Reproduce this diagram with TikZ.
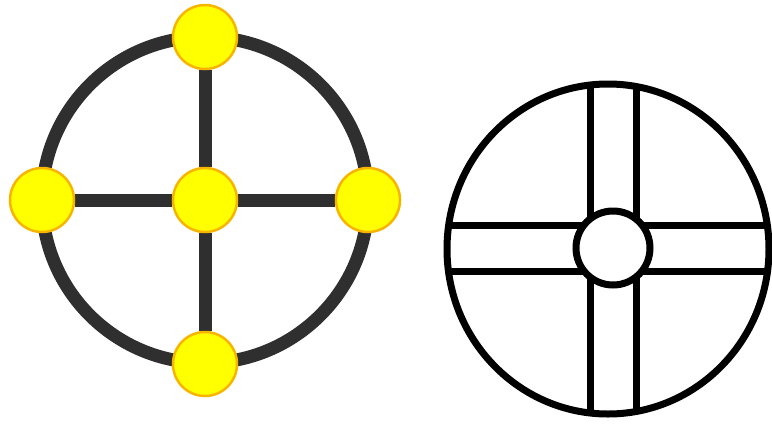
\documentclass[tikz,border=0pt]{standalone}
\usetikzlibrary{backgrounds}
\definecolor{edgegray}{HTML}{2F2F2F}
\definecolor{nodeyellow}{HTML}{FFFF00}
\definecolor{nodeborder}{HTML}{F7B500}
\tikzset{
  graphedge/.style={draw=edgegray, line width=13pt},
  vertex/.style={circle, fill=nodeyellow, draw=nodeborder, line width=2.5pt, minimum size=64pt, inner sep=0pt},
  symline/.style={draw=black, line width=7pt},
}
\begin{document}
\begin{tikzpicture}[x=1pt,y=-1pt]
\useasboundingbox (0,0) rectangle (772,424);
% left graph
\node[vertex] (c) at (205,200) {};
\node[vertex] (t) at (205,37) {};
\node[vertex] (b) at (205,364) {};
\node[vertex] (l) at (42,200) {};
\node[vertex] (r) at (368,200) {};
\begin{scope}[on background layer]
  \draw[graphedge] (c.center) circle[radius=163];
  \draw[graphedge] (c) -- (t);
  \draw[graphedge] (c) -- (b);
  \draw[graphedge] (c) -- (l);
  \draw[graphedge] (c) -- (r);
\end{scope}
% right symbol
\begin{scope}
  \clip (608,249) ellipse[x radius=161, y radius=165];
  \draw[symline] (590,60) -- (590,430);
  \draw[symline] (636,60) -- (636,430);
  \draw[symline] (430,225) -- (790,225);
  \draw[symline] (430,271) -- (790,271);
\end{scope}
\draw[symline] (608,249) ellipse[x radius=161, y radius=165];
\draw[symline, fill=white] (613,248) circle[radius=37];
\end{tikzpicture}
\end{document}
